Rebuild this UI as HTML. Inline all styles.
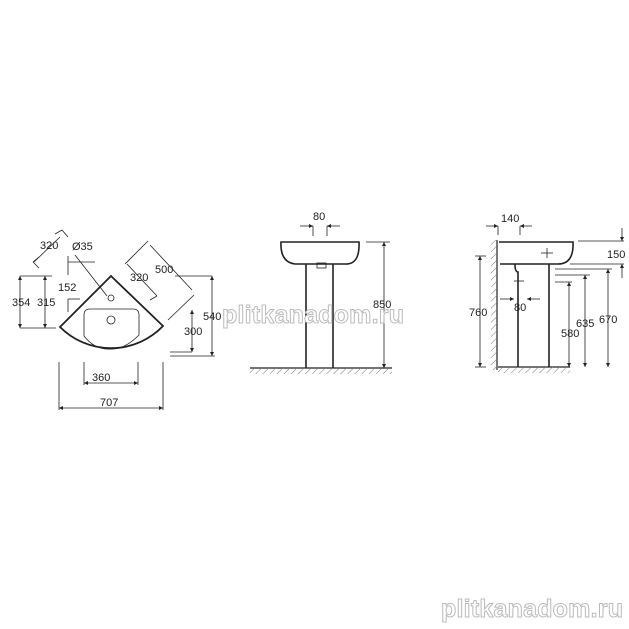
<!DOCTYPE html>
<html><head><meta charset="utf-8"><style>
html,body{margin:0;padding:0;background:#fff}
svg{display:block}
text{font-family:"Liberation Sans",Arial,sans-serif;font-size:11px;fill:#222}
.wm{font-family:"Liberation Sans",sans-serif;font-weight:bold;font-size:25px;fill:#fff;stroke:#bbb;stroke-width:1;letter-spacing:1px}
</style></head><body>
<svg width="629" height="629" viewBox="0 0 629 629" xmlns="http://www.w3.org/2000/svg">
<defs>
<pattern id="h" width="5" height="5" patternUnits="userSpaceOnUse" patternTransform="rotate(45)">
<line x1="0" y1="0" x2="0" y2="5" stroke="#777" stroke-width="1"/></pattern>
<marker id="a" viewBox="0 0 6 6" refX="6" refY="3" markerWidth="5" markerHeight="5" orient="auto-start-reverse"><path d="M0,0L6,3L0,6z" fill="#222"/></marker>
</defs>
<g stroke="#222" fill="none" stroke-width="0.8">
<!-- corner sink -->
<path d="M111,276 L60,327 A72,72 0 0 0 163,326 Z" stroke-width="1.8"/>
<path d="M84,315 Q84,309 90,309 L133,309 Q139,309 139,315 L139,335 Q124,350 110,349 Q95,350 84,336 Z"/>
<circle cx="111" cy="320" r="4"/><circle cx="111" cy="298" r="3"/>
<line x1="20" y1="276" x2="52" y2="276"/><line x1="20" y1="328" x2="56" y2="328"/>
<line x1="20" y1="276" x2="20" y2="328" marker-start="url(#a)" marker-end="url(#a)"/>
<line x1="45" y1="276" x2="45" y2="328" marker-start="url(#a)" marker-end="url(#a)"/>
<line x1="68" y1="262" x2="95" y2="262"/><line x1="68" y1="256" x2="68" y2="275"/>
<line x1="68" y1="299" x2="80" y2="299"/><line x1="68" y1="299" x2="68" y2="312"/>
<line x1="75" y1="255" x2="107" y2="296"/>
<polyline points="33,262 39,268"/><polyline points="33,262 39,257"/>
<line x1="34" y1="262" x2="60" y2="237"/><polyline points="55,234 62,230 68,237"/>
<line x1="125" y1="264" x2="148" y2="241"/><line x1="150" y1="245" x2="192" y2="290"/>
<line x1="168" y1="320" x2="194" y2="295"/>
<line x1="127" y1="264" x2="157" y2="296"/><line x1="150" y1="300" x2="157" y2="296"/>
<line x1="175" y1="276" x2="212" y2="276"/><line x1="212" y1="276" x2="212" y2="356" marker-start="url(#a)" marker-end="url(#a)"/>
<line x1="170" y1="356" x2="215" y2="356"/><line x1="170" y1="352" x2="192" y2="352"/>
<line x1="192" y1="310" x2="192" y2="352" marker-start="url(#a)" marker-end="url(#a)"/>
<line x1="84" y1="362" x2="84" y2="385"/><line x1="138" y1="362" x2="138" y2="385"/>
<line x1="84" y1="383" x2="138" y2="383" marker-start="url(#a)" marker-end="url(#a)"/>
<line x1="59" y1="362" x2="59" y2="410"/><line x1="163" y1="362" x2="163" y2="410"/>
<line x1="59" y1="408" x2="163" y2="408" marker-start="url(#a)" marker-end="url(#a)"/>
<!-- middle pedestal -->
<path d="M281,242 L359,242 Q360,265 345,264 L295,264 Q280,262 281,242 Z" stroke-width="1.6"/>
<rect x="317" y="263" width="9" height="5"/>
<path d="M306,264 L306,368 M333,264 L333,368" stroke-width="1.6"/>
<line x1="250" y1="368" x2="392" y2="368" stroke-width="1.2"/>
<rect x="250" y="368" width="142" height="6" fill="url(#h)" stroke="none"/>
<line x1="366" y1="242" x2="390" y2="242"/>
<line x1="384" y1="242" x2="384" y2="368" marker-start="url(#a)" marker-end="url(#a)"/>
<line x1="313" y1="226" x2="313" y2="236"/><line x1="327" y1="226" x2="327" y2="236"/>
<line x1="300" y1="226" x2="313" y2="226" marker-end="url(#a)"/><line x1="340" y1="226" x2="327" y2="226" marker-end="url(#a)"/>
<!-- right side -->
<line x1="497" y1="240" x2="497" y2="370" stroke-width="1.2"/>
<rect x="491" y="240" width="6" height="130" fill="url(#h)" stroke="none"/>
<path d="M499,242 L573,242 Q574,264 558,264 L500,264" stroke-width="1.6"/>
<path d="M515,264 Q515,272 518,272 L518,367 M549,264 L549,367" stroke-width="1.6"/>
<line x1="498" y1="367" x2="570" y2="367" stroke-width="1.2"/>
<rect x="498" y="367" width="72" height="6" fill="url(#h)" stroke="none"/>
<line x1="514" y1="281" x2="524" y2="281"/><line x1="518" y1="276" x2="518" y2="286"/>
<line x1="541" y1="253" x2="553" y2="253"/><line x1="547" y1="248" x2="547" y2="258"/>
<line x1="498" y1="226" x2="498" y2="235"/><line x1="520" y1="226" x2="520" y2="235"/>
<line x1="486" y1="226" x2="498" y2="226" marker-end="url(#a)"/><line x1="532" y1="226" x2="520" y2="226" marker-end="url(#a)"/>
<line x1="500" y1="299" x2="514" y2="299" marker-end="url(#a)"/><line x1="540" y1="299" x2="527" y2="299" marker-end="url(#a)"/>
<line x1="475" y1="256" x2="486" y2="256"/><line x1="475" y1="367" x2="486" y2="367"/>
<line x1="480" y1="256" x2="480" y2="367" marker-start="url(#a)" marker-end="url(#a)"/>
<line x1="578" y1="241" x2="624" y2="241"/><line x1="570" y1="264" x2="624" y2="264"/>
<line x1="622" y1="228" x2="622" y2="241" marker-end="url(#a)"/><line x1="622" y1="278" x2="622" y2="264" marker-end="url(#a)"/>
<line x1="555" y1="269" x2="612" y2="269"/><line x1="608" y1="269" x2="608" y2="367" marker-start="url(#a)" marker-end="url(#a)"/>
<line x1="555" y1="275" x2="590" y2="275"/><line x1="585" y1="275" x2="585" y2="367" marker-start="url(#a)" marker-end="url(#a)"/>
<line x1="555" y1="282" x2="572" y2="282"/><line x1="569" y1="282" x2="569" y2="367" marker-start="url(#a)" marker-end="url(#a)"/>
</g>
<text x="40" y="249">320</text><text x="72" y="250">Ø35</text>
<text x="155" y="273">500</text><text x="130" y="281">320</text>
<text x="58" y="291">152</text>
<text x="12" y="306">354</text><text x="37" y="306">315</text>
<text x="184" y="335">300</text>
<text x="203" y="320">540</text>
<text x="92" y="381">360</text><text x="100" y="406">707</text>
<text x="313" y="220">80</text>
<text x="373" y="308">850</text>
<text x="501" y="222">140</text>
<text x="607" y="258">150</text>
<text x="469" y="316">760</text>
<text x="514" y="311">80</text>
<text x="576" y="327">635</text><text x="599" y="323">670</text>
<text x="561" y="337">580</text>
<text class="wm" x="222" y="323" textLength="183">plitkanadom.ru</text>
<text class="wm" x="441" y="617" textLength="183">plitkanadom.ru</text>
</svg>
</body></html>
